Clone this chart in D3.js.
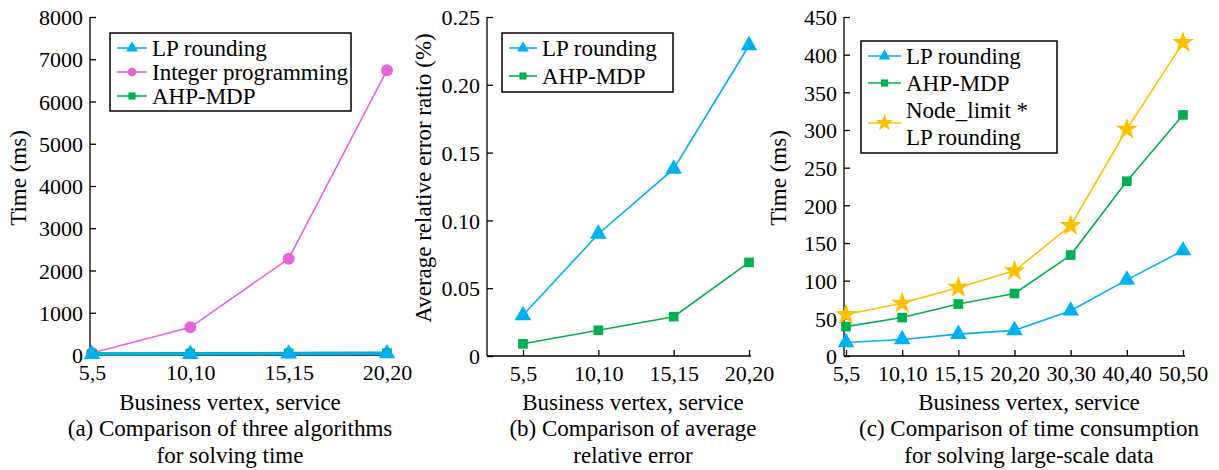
<!DOCTYPE html>
<html lang='en'>
<head>
    <meta charset='utf-8'>
    <title>Algorithm comparison</title>
    <script src="https://d3js.org/d3.v7.min.js"></script>
    <style>
        body { margin: 0; background: white; }
        text { font-family: "Liberation Serif", "Times New Roman", serif; fill: black; }
    </style>
</head>
<body>
    <div id='chart'></div>
    <script>
        // categories
        const catsSmall = ["5,5", "10,10", "15,15", "20,20"];
        const catsLarge = ["5,5", "10,10", "15,15", "20,20", "30,30", "40,40", "50,50"];

        // (a) solving time, ms
        const aLP = [17, 22, 29, 34];
        const aInteger = [45, 655, 2280, 6740];
        const aAHP = [30, 35, 40, 45];
        const aTicks = [0, 1000, 2000, 3000, 4000, 5000, 6000, 7000, 8000];

        // (b) average relative error
        const bLP = [0.030, 0.090, 0.138, 0.229];
        const bAHP = [0.009, 0.019, 0.029, 0.069];
        const bTicks = [0, 0.05, 0.10, 0.15, 0.20, 0.25];

        // (c) large-scale time, ms
        const cLP = [18, 22, 29, 34, 60, 101, 140];
        const cAHP = [39, 51, 69, 83, 134, 232, 320];
        const cNode = [55, 70, 91, 113, 173, 301, 416];
        const cTicks = [0, 50, 100, 150, 200, 250, 300, 350, 400, 450];

        const colors = {lp: "#00b0f0", integer: "#e864d6", ahp: "#00b050", node: "#ffc000"};

        let svg = d3.select("#chart")
                    .append("svg")
                        .attr("width", 1219)
                        .attr("height", 470);

        const fontSize = 23;
        const tickSize = 22;

        let drawMarker = (g, shape, x, y, color, s) => {
            let sym;
            if (shape == "triangle") sym = d3.symbol().type(d3.symbolTriangle).size(s * 1.0);
            else if (shape == "square") sym = d3.symbol().type(d3.symbolSquare).size(s * 0.85);
            else if (shape == "circle") sym = d3.symbol().type(d3.symbolCircle).size(s * 0.95);
            else sym = d3.symbol().type(d3.symbolStar).size(s * 0.9);
            g.append("path")
                .attr("d", sym)
                .attr("transform", `translate(${x},${y})`)
                .attr("fill", color);
        }

        let drawPanel = (p) => {
            let g = svg.append("g");

            let x = d3.scalePoint()
                .domain(p.cats)
                .range([p.x0, p.x1]);

            let y = d3.scaleLinear()
                .domain([0, p.ymax])
                .range([p.y0, p.y1]);

            // y axis with inward ticks
            let yAxis = g.append("g")
                .attr("transform", `translate(${p.axisX},0)`)
                .call(d3.axisRight(y).tickValues(p.ticks).tickSize(6).tickFormat(p.fmt));
            yAxis.select(".domain").attr("d", `M0,${p.y0}V${p.y1}`).attr("stroke-width", 1.3);
            yAxis.selectAll(".tick line").attr("stroke-width", 1.3);
            yAxis.selectAll(".tick text")
                .attr("x", -7)
                .attr("dy", "0.35em")
                .style("text-anchor", "end")
                .style("font-size", tickSize + "px");

            // x axis
            let xAxis = g.append("g")
                .attr("transform", `translate(0,${p.y0})`)
                .call(d3.axisTop(x).tickSize(6));
            xAxis.select(".domain").attr("d", `M${p.axisX},0H${p.x1 + 2}`).attr("stroke-width", 1.3);
            xAxis.selectAll(".tick line").attr("stroke-width", 1.3);
            xAxis.selectAll(".tick text")
                .attr("y", 9)
                .attr("dy", "0.71em")
                .style("font-size", tickSize + "px");

            // y title
            g.append("text")
                .attr("transform", `translate(${p.yTitleX},${p.yTitleY}) rotate(-90)`)
                .style("text-anchor", "middle")
                .style("font-size", fontSize + "px")
                .text(p.yTitle);

            // x title and caption
            g.append("text")
                .attr("x", p.capX)
                .attr("y", 410)
                .style("text-anchor", "middle")
                .style("font-size", fontSize + "px")
                .text("Business vertex, service");
            p.caption.forEach((line, i) => {
                g.append("text")
                    .attr("x", p.capX)
                    .attr("y", 436 + i * 27)
                    .style("text-anchor", "middle")
                    .style("font-size", fontSize + "px")
                    .text(line);
            });

            // series
            p.series.forEach((s) => {
                let line = d3.line()
                    .x((d, i) => x(p.cats[i]))
                    .y((d) => y(d));
                g.append("path")
                    .datum(s.values)
                    .attr("d", line)
                    .attr("fill", "none")
                    .attr("stroke", s.color)
                    .attr("stroke-width", s.width || 1.6);
                s.values.forEach((v, i) => {
                    drawMarker(g, s.shape, x(p.cats[i]), y(v), s.color, s.msize);
                });
            });

            // legend
            let lg = p.legend;
            g.append("rect")
                .attr("x", lg.x)
                .attr("y", lg.y)
                .attr("width", lg.w)
                .attr("height", lg.h)
                .attr("fill", "white")
                .attr("stroke", "black")
                .attr("stroke-width", 1.5);
            p.series.forEach((s, i) => {
                let cy = lg.rows[i];
                g.append("line")
                    .attr("x1", lg.x + 7)
                    .attr("x2", lg.x + 7 + lg.lineLen)
                    .attr("y1", cy)
                    .attr("y2", cy)
                    .attr("stroke", s.color)
                    .attr("stroke-width", 1.6);
                drawMarker(g, s.shape, lg.x + 7 + lg.lineLen / 2, cy, s.color, s.shape == "star" ? 110 : 60);
                s.label.forEach((t, j) => {
                    g.append("text")
                        .attr("x", lg.x + 7 + lg.lineLen + 5)
                        .attr("y", cy + (j - (s.label.length - 1) / 2) * 27)
                        .attr("dy", "0.35em")
                        .style("font-size", fontSize + "px")
                        .text(t);
                });
            });
        }

        // (a)
        drawPanel({
            cats: catsSmall, x0: 92, x1: 387, axisX: 90, y0: 355, y1: 17, ymax: 8000,
            ticks: aTicks, fmt: d3.format("d"),
            yTitle: "Time (ms)", yTitleX: 26, yTitleY: 178,
            capX: 230, caption: ["(a) Comparison of three algorithms", "for solving time"],
            series: [
                {label: ["Integer programming"], values: aInteger, color: colors.integer, shape: "circle", msize: 120},
                {label: ["AHP-MDP"], values: aAHP, color: colors.ahp, shape: "square", msize: 110, width: 3},
                {label: ["LP rounding"], values: aLP, color: colors.lp, shape: "triangle", msize: 120, width: 3}
            ],
            legend: {x: 110, y: 33, w: 241, h: 78, lineLen: 30, rows: [72, 96, 48]}
        });

        // (b)
        drawPanel({
            cats: catsSmall, x0: 523, x1: 749, axisX: 487, y0: 356, y1: 17, ymax: 0.25,
            ticks: bTicks, fmt: (d) => d == 0 ? "0" : d3.format(".2f")(d),
            yTitle: "Average relative error ratio (%)", yTitleX: 431, yTitleY: 178,
            capX: 633, caption: ["(b) Comparison of average", "relative error"],
            series: [
                {label: ["LP rounding"], values: bLP, color: colors.lp, shape: "triangle", msize: 120},
                {label: ["AHP-MDP"], values: bAHP, color: colors.ahp, shape: "square", msize: 110}
            ],
            legend: {x: 502, y: 33, w: 171, h: 59, lineLen: 28, rows: [48, 76]}
        });

        // (c)
        drawPanel({
            cats: catsLarge, x0: 846, x1: 1183, axisX: 844, y0: 356, y1: 17, ymax: 450,
            ticks: cTicks, fmt: d3.format("d"),
            yTitle: "Time (ms)", yTitleX: 786, yTitleY: 178,
            capX: 1029, caption: ["(c) Comparison of time consumption", "for solving large-scale data"],
            series: [
                {label: ["LP rounding"], values: cLP, color: colors.lp, shape: "triangle", msize: 120},
                {label: ["AHP-MDP"], values: cAHP, color: colors.ahp, shape: "square", msize: 110},
                {label: ["Node_limit *", "LP rounding"], values: cNode, color: colors.node, shape: "star", msize: 170}
            ],
            legend: {x: 861, y: 41, w: 196, h: 112, lineLen: 33, rows: [56, 83, 123]}
        });
    </script>
</body>
</html>
